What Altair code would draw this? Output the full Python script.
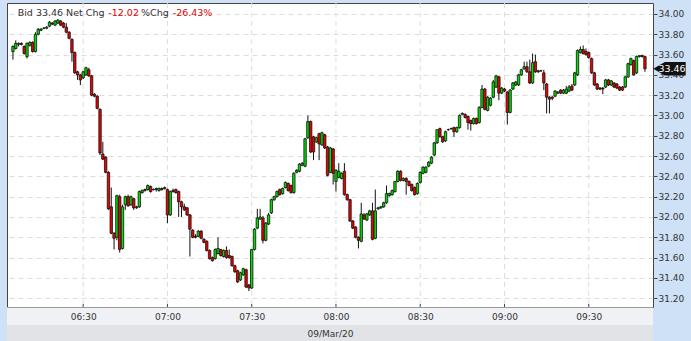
import json
import altair as alt
import pandas as pd

# ---------------- data (1-minute candles, minutes after 06:00) ----------------
minutes = list(range(5, 231))  # 06:05 ... 09:50

opens = [
    33.63, 33.66, 33.70, 33.71, 33.68, 33.58, 33.69, 33.72, 33.63, 33.80,
    33.84, 33.86, 33.86, 33.88, 33.91, 33.89, 33.91, 33.93, 33.91, 33.87,
    33.82, 33.75, 33.62, 33.43, 33.40, 33.37, 33.40, 33.45, 33.39, 33.21,
    33.19, 33.06, 32.62, 32.59, 32.44, 32.10, 31.84, 31.80, 32.20, 31.69,
    32.12, 32.20, 32.12, 32.18, 32.10, 32.10, 32.24, 32.27, 32.27, 32.30,
    32.27, 32.27, 32.26, 32.28, 32.28, 32.27, 32.02, 32.26, 32.27, 32.25,
    32.15, 32.10, 32.09, 32.02, 31.87, 31.81, 31.81, 31.86, 31.78, 31.76,
    31.67, 31.60, 31.59, 31.64, 31.68, 31.61, 31.67, 31.62, 31.61, 31.52,
    31.47, 31.38, 31.43, 31.48, 31.33, 31.30, 31.68, 31.89, 31.98, 31.99,
    31.77, 31.93, 32.04, 32.17, 32.20, 32.27, 32.23, 32.29, 32.33, 32.31,
    32.24, 32.44, 32.45, 32.51, 32.50, 32.78, 32.94, 32.79, 32.74, 32.82,
    32.71, 32.81, 32.69, 32.44, 32.67, 32.35, 32.39, 32.38, 32.45, 32.22,
    32.17, 31.96, 31.90, 31.80, 31.76, 32.02, 31.97, 32.02, 32.06, 31.79,
    32.08, 32.09, 32.10, 32.14, 32.21, 32.22, 32.25, 32.35, 32.45, 32.36,
    32.38, 32.35, 32.32, 32.29, 32.23, 32.34, 32.43, 32.44, 32.50, 32.53,
    32.61, 32.73, 32.87, 32.79, 32.75, 32.86, 32.87, 32.88, 32.84, 32.88,
    33.01, 33.01, 32.99, 32.95, 32.92, 32.97, 32.93, 33.08, 33.26, 33.05,
    33.10, 33.18, 33.28, 33.38, 33.22, 33.26, 33.23, 33.03, 33.26, 33.30,
    33.30, 33.40, 33.46, 33.48, 33.43, 33.32, 33.53, 33.44, 33.44, 33.42,
    33.31, 33.18, 33.18, 33.19, 33.22, 33.25, 33.22, 33.22, 33.24, 33.29,
    33.30, 33.40, 33.62, 33.65, 33.63, 33.62, 33.56, 33.42, 33.31, 33.27,
    33.27, 33.28, 33.35, 33.30, 33.32, 33.31, 33.28, 33.28, 33.28, 33.38,
    33.50, 33.54, 33.42, 33.58, 33.59, 33.58,
]
highs = [
    33.69, 33.74, 33.72, 33.72, 33.69, 33.72, 33.73, 33.73, 33.82, 33.86,
    33.86, 33.87, 33.88, 33.93, 33.92, 33.94, 33.95, 33.94, 33.92, 33.91,
    33.83, 33.76, 33.63, 33.44, 33.41, 33.44, 33.48, 33.47, 33.40, 33.22,
    33.20, 33.07, 32.74, 32.60, 32.45, 32.29, 31.85, 32.22, 32.22, 32.12,
    32.21, 32.22, 32.21, 32.19, 32.11, 32.26, 32.27, 32.28, 32.32, 32.31,
    32.28, 32.29, 32.29, 32.29, 32.30, 32.28, 32.26, 32.28, 32.28, 32.26,
    32.16, 32.13, 32.10, 32.03, 31.88, 31.83, 31.87, 31.87, 31.79, 31.77,
    31.68, 31.61, 31.69, 31.80, 31.68, 31.68, 31.71, 31.68, 31.62, 31.53,
    31.48, 31.46, 31.50, 31.49, 31.34, 31.68, 31.89, 32.08, 32.08, 32.01,
    31.95, 32.04, 32.18, 32.21, 32.26, 32.28, 32.29, 32.35, 32.34, 32.32,
    32.44, 32.47, 32.53, 32.54, 32.78, 33.00, 32.95, 32.80, 32.79, 32.83,
    32.84, 32.82, 32.70, 32.69, 32.68, 32.47, 32.53, 32.44, 32.53, 32.23,
    32.18, 31.97, 31.91, 31.81, 32.14, 32.04, 32.04, 32.07, 32.14, 32.27,
    32.10, 32.11, 32.15, 32.31, 32.24, 32.27, 32.35, 32.46, 32.46, 32.39,
    32.39, 32.36, 32.33, 32.30, 32.34, 32.45, 32.50, 32.50, 32.55, 32.60,
    32.74, 32.86, 32.88, 32.80, 32.85, 32.87, 32.88, 32.89, 32.89, 33.01,
    33.03, 33.02, 33.00, 32.96, 32.98, 32.98, 33.09, 33.30, 33.27, 33.19,
    33.18, 33.35, 33.40, 33.39, 33.28, 33.27, 33.24, 33.26, 33.33, 33.34,
    33.41, 33.46, 33.53, 33.53, 33.55, 33.61, 33.60, 33.45, 33.45, 33.45,
    33.32, 33.19, 33.19, 33.25, 33.24, 33.26, 33.26, 33.29, 33.30, 33.31,
    33.43, 33.65, 33.68, 33.69, 33.66, 33.63, 33.57, 33.43, 33.32, 33.28,
    33.28, 33.36, 33.36, 33.35, 33.33, 33.32, 33.29, 33.29, 33.39, 33.52,
    33.57, 33.55, 33.59, 33.59, 33.60, 33.59,
]
lows = [
    33.55, 33.65, 33.68, 33.69, 33.60, 33.56, 33.68, 33.62, 33.62, 33.79,
    33.83, 33.85, 33.85, 33.87, 33.89, 33.88, 33.90, 33.88, 33.86, 33.81,
    33.75, 33.53, 33.41, 33.35, 33.30, 33.36, 33.39, 33.38, 33.19, 33.18,
    33.06, 32.61, 32.56, 32.43, 32.07, 31.83, 31.68, 31.77, 31.65, 31.68,
    32.07, 32.10, 32.11, 32.07, 32.08, 32.09, 32.23, 32.25, 32.26, 32.24,
    32.26, 32.25, 32.25, 32.26, 32.27, 31.94, 32.01, 32.24, 32.23, 32.00,
    32.00, 32.06, 32.01, 31.61, 31.79, 31.79, 31.80, 31.78, 31.74, 31.66,
    31.58, 31.56, 31.58, 31.63, 31.61, 31.60, 31.59, 31.59, 31.51, 31.45,
    31.35, 31.37, 31.42, 31.30, 31.27, 31.29, 31.67, 31.88, 31.97, 31.74,
    31.76, 31.92, 32.03, 32.16, 32.19, 32.21, 32.22, 32.28, 32.25, 32.23,
    32.23, 32.43, 32.44, 32.50, 32.49, 32.77, 32.63, 32.56, 32.73, 32.56,
    32.70, 32.67, 32.40, 32.43, 32.32, 32.25, 32.38, 32.37, 32.21, 32.16,
    31.95, 31.88, 31.79, 31.69, 31.75, 31.97, 31.96, 32.01, 31.77, 31.78,
    32.07, 32.08, 32.09, 32.13, 32.20, 32.21, 32.24, 32.34, 32.35, 32.35,
    32.22, 32.30, 32.25, 32.21, 32.22, 32.33, 32.42, 32.43, 32.49, 32.52,
    32.60, 32.72, 32.78, 32.73, 32.74, 32.85, 32.86, 32.79, 32.83, 32.87,
    33.01, 32.97, 32.86, 32.85, 32.91, 32.91, 32.92, 33.07, 33.05, 33.04,
    33.09, 33.17, 33.27, 33.15, 33.21, 33.23, 32.91, 33.02, 33.25, 33.29,
    33.29, 33.39, 33.45, 33.42, 33.31, 33.31, 33.42, 33.42, 33.43, 33.25,
    33.02, 33.02, 33.15, 33.18, 33.21, 33.21, 33.21, 33.21, 33.23, 33.24,
    33.29, 33.39, 33.61, 33.60, 33.59, 33.56, 33.41, 33.29, 33.25, 33.25,
    33.21, 33.27, 33.29, 33.29, 33.27, 33.26, 33.24, 33.24, 33.27, 33.37,
    33.49, 33.39, 33.41, 33.57, 33.57, 33.43,
]
closes = [
    33.68, 33.71, 33.71, 33.70, 33.61, 33.71, 33.72, 33.63, 33.80, 33.85,
    33.85, 33.86, 33.87, 33.92, 33.90, 33.93, 33.94, 33.89, 33.87, 33.82,
    33.76, 33.62, 33.42, 33.40, 33.35, 33.43, 33.47, 33.39, 33.20, 33.19,
    33.07, 32.63, 32.57, 32.44, 32.08, 31.84, 31.79, 32.21, 31.68, 32.10,
    32.20, 32.11, 32.20, 32.09, 32.09, 32.25, 32.26, 32.26, 32.31, 32.25,
    32.27, 32.28, 32.28, 32.27, 32.29, 32.02, 32.25, 32.25, 32.24, 32.15,
    32.10, 32.07, 32.02, 31.88, 31.80, 31.80, 31.86, 31.79, 31.75, 31.67,
    31.59, 31.57, 31.68, 31.69, 31.62, 31.67, 31.60, 31.60, 31.52, 31.46,
    31.36, 31.45, 31.49, 31.31, 31.30, 31.68, 31.88, 31.99, 32.00, 31.77,
    31.94, 32.02, 32.17, 32.20, 32.25, 32.22, 32.28, 32.34, 32.26, 32.24,
    32.43, 32.46, 32.52, 32.53, 32.77, 32.94, 32.64, 32.64, 32.78, 32.72,
    32.83, 32.68, 32.41, 32.68, 32.43, 32.46, 32.45, 32.43, 32.22, 32.17,
    31.96, 31.89, 31.80, 31.77, 32.03, 31.98, 32.03, 32.06, 31.78, 32.06,
    32.09, 32.10, 32.14, 32.23, 32.23, 32.26, 32.35, 32.45, 32.36, 32.38,
    32.35, 32.31, 32.26, 32.22, 32.33, 32.44, 32.49, 32.49, 32.54, 32.59,
    32.73, 32.86, 32.79, 32.74, 32.84, 32.86, 32.87, 32.84, 32.88, 33.00,
    33.02, 32.98, 32.93, 32.92, 32.97, 32.92, 33.08, 33.26, 33.06, 33.18,
    33.17, 33.33, 33.39, 33.22, 33.27, 33.24, 33.03, 33.25, 33.32, 33.33,
    33.40, 33.45, 33.48, 33.43, 33.32, 33.52, 33.43, 33.43, 33.44, 33.32,
    33.18, 33.16, 33.17, 33.24, 33.23, 33.22, 33.25, 33.26, 33.28, 33.25,
    33.42, 33.64, 33.65, 33.61, 33.60, 33.57, 33.42, 33.30, 33.26, 33.26,
    33.26, 33.35, 33.30, 33.34, 33.28, 33.27, 33.25, 33.25, 33.38, 33.51,
    33.56, 33.40, 33.58, 33.59, 33.58, 33.46,
]

x_ticks = [30, 60, 90, 120, 150, 180, 210]
x_labels = ["06:30", "07:00", "07:30", "08:00", "08:30", "09:00", "09:30"]
y_ticks = [31.2, 31.4, 31.6, 31.8, 32.0, 32.2, 32.4, 32.6, 32.8, 33.0,
           33.2, 33.4, 33.6, 33.8, 34.0]
date_label = "09/Mar/20"

bid = "33.46"
net_chg = "-12.02"
pct_chg = "-26.43%"
last_price = 33.46

# ---------------- chart ----------------
W, H = 646, 304
FONT = "DejaVu Sans"
GREEN = "#00dd00"
RED = "#ee0000"

df = pd.DataFrame({"t": minutes, "open": opens, "high": highs,
                   "low": lows, "close": closes})
df["dir"] = ["up" if c >= o else "down" for o, c in zip(opens, closes)]

xscale = alt.Scale(domain=[4.66, 231.09], nice=False, zero=False)
yscale = alt.Scale(domain=[31.113, 34.108], nice=False, zero=False)

label_expr = f"{json.dumps(x_labels)}[indexof({json.dumps(x_ticks)}, datum.value)]"

x_axis = alt.Axis(values=x_ticks, labelExpr=label_expr, grid=False, domain=False,
                  ticks=False, labelFont=FONT, labelFontSize=9, labelColor="#333",
                  labelPadding=5, title=date_label, titleFont=FONT, titleFontSize=9,
                  titleFontWeight="normal", titleColor="#333", titleX=W / 2,
                  titleY=26, titleAlign="center", titleBaseline="middle",
                  titleAnchor="middle", zindex=1)
y_axis = alt.Axis(orient="right", values=y_ticks, format=".2f", grid=True,
                  gridDash=[5, 4], gridColor="#dddddd", gridWidth=1, domain=False,
                  tickSize=4, tickColor="#444", labelFont=FONT, labelFontSize=9,
                  labelColor="#333", labelPadding=1, title=None, zindex=0)


def X(field):
    return alt.X(field, type="quantitative", scale=xscale, axis=x_axis)


def Y(field):
    return alt.Y(field, type="quantitative", scale=yscale, axis=y_axis)


# bottom time / date strips (outside the plot)
strip_df = pd.DataFrame({"k": [0]})
strip1 = alt.Chart(strip_df).mark_rect(color="#f0f1f4").encode(
    x=alt.value(0), x2=alt.value(W), y=alt.value(H + 0.5), y2=alt.value(H + 18))
strip2 = alt.Chart(strip_df).mark_rect(color="#e2e3e6").encode(
    x=alt.value(0), x2=alt.value(W), y=alt.value(H + 18), y2=alt.value(H + 34))

tick_df = pd.DataFrame({"t": x_ticks})
vgrid = alt.Chart(tick_df).mark_rule(
    color="#dddddd", strokeDash=[5, 4], strokeWidth=1
).encode(x=X("t"))
# short inward ticks on the bottom frame
bticks = alt.Chart(tick_df).mark_rule(color="#444", strokeWidth=1).encode(
    x=X("t"), y=alt.value(H - 3), y2=alt.value(H))

wicks = alt.Chart(df).mark_rule(color="#111", strokeWidth=1).encode(
    x=X("t"), y=Y("low"), y2="high:Q",
)

bodies = alt.Chart(df).mark_bar(size=2.4, stroke="#111", strokeWidth=0.8).encode(
    x=X("t"), y=Y("open"), y2="close:Q",
    fill=alt.Fill("dir:N", scale=alt.Scale(domain=["up", "down"], range=[GREEN, RED]),
                  legend=None),
)

# header text segments
hdr_parts = [("Bid " + bid + " Net Chg", 10.7, "#333333"),
             (net_chg, 101.3, "#e00000"),
             ("%Chg", 134.0, "#333333"),
             (pct_chg, 165.7, "#e00000")]
headers = [
    alt.Chart(strip_df).mark_text(align="left", baseline="alphabetic", font=FONT,
                                  fontSize=9.5, color=col).encode(
        x=alt.value(px), y=alt.value(13), text=alt.value(txt))
    for txt, px, col in hdr_parts
]

# last price tag on the right axis
last_df = pd.DataFrame({"price": [last_price], "label": [f"{last_price:.2f}"]})
tag = alt.Chart(last_df).mark_point(
    shape="M-1,0L-0.29,-0.42L1,-0.42L1,0.42L-0.29,0.42Z",
    size=1050, filled=True, color="#111", opacity=1, strokeWidth=0
).encode(x=alt.value(W + 16.5), y=Y("price"))
tag_text = alt.Chart(last_df).mark_text(color="white", font=FONT, fontSize=9.5,
                                        align="center", baseline="middle").encode(
    x=alt.value(W + 19), y=Y("price"), text="label:N")

chart = alt.layer(strip1, strip2, vgrid, bticks, wicks, bodies, *headers,
                  tag, tag_text).properties(
    width=W, height=H,
    padding={"left": 7, "top": 3, "right": 38, "bottom": 34},
    autosize=alt.AutoSizeParams(type="none"),
    background="#cfe1f7",
).configure_view(fill="white", stroke="#444", strokeWidth=1)

chart.save("out.html", embed_options={"renderer": "svg", "actions": False})
